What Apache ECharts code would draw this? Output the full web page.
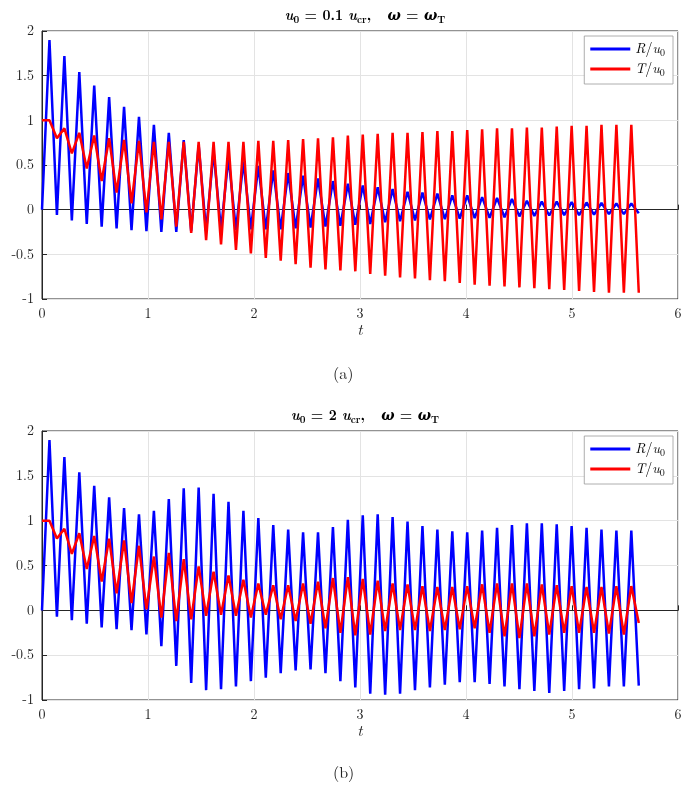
<!DOCTYPE html>
<html><head><meta charset="utf-8">
<script src="https://cdn.jsdelivr.net/npm/echarts@6/dist/echarts.min.js"></script>
<style>html,body{margin:0;padding:0;background:#fff}#c{width:689px;height:793px}</style>
</head><body><div id="c"></div>
<script>
// time step of samples (t end = 5.63, 80 steps)
const tEnd = 5.63, nSteps = 80;
// (a) u0 = 0.1 ucr : values at even samples (troughs) and odd samples (peaks)
const R_a_even = [0,-0.06,-0.12,-0.16,-0.19,-0.21,-0.23,-0.24,-0.25,-0.25,-0.24,-0.24,-0.23,-0.23,-0.22,-0.22,-0.22,-0.21,-0.2,-0.19,-0.18,
  -0.17,-0.16,-0.14,-0.13,-0.12,-0.11,-0.105,-0.1,-0.095,-0.09,-0.085,-0.075,-0.07,-0.065,-0.06,-0.06,-0.055,-0.05,-0.05,-0.04];
const R_a_odd = [1.9,1.72,1.54,1.39,1.26,1.15,1.04,0.95,0.86,0.78,0.72,0.65,0.59,0.54,0.49,0.44,0.41,0.38,0.35,0.32,
  0.29,0.27,0.25,0.23,0.2,0.19,0.18,0.16,0.16,0.14,0.13,0.12,0.1,0.09,0.09,0.085,0.08,0.075,0.07,0.07];
const T_a_even = [1,0.8,0.63,0.46,0.32,0.19,0.07,-0.03,-0.11,-0.19,-0.26,-0.34,-0.39,-0.45,-0.49,-0.54,-0.57,-0.61,-0.65,-0.67,-0.68,
  -0.69,-0.72,-0.74,-0.76,-0.77,-0.79,-0.8,-0.82,-0.84,-0.85,-0.86,-0.87,-0.88,-0.89,-0.9,-0.91,-0.92,-0.93,-0.93,-0.93];
const T_a_odd = [1.0,0.91,0.86,0.83,0.8,0.78,0.77,0.76,0.76,0.76,0.76,0.76,0.76,0.76,0.77,0.77,0.78,0.79,0.8,0.81,
  0.83,0.84,0.85,0.86,0.86,0.87,0.88,0.88,0.89,0.9,0.91,0.91,0.92,0.92,0.93,0.94,0.94,0.95,0.95,0.95];
// (b) u0 = 2 ucr
const R_b_even = [0,-0.07,-0.11,-0.15,-0.19,-0.21,-0.22,-0.27,-0.4,-0.62,-0.81,-0.89,-0.88,-0.85,-0.79,-0.75,-0.7,-0.67,-0.66,-0.7,-0.79,
  -0.86,-0.93,-0.94,-0.93,-0.89,-0.86,-0.83,-0.8,-0.8,-0.82,-0.85,-0.88,-0.9,-0.92,-0.9,-0.88,-0.87,-0.85,-0.85,-0.84];
const R_b_odd = [1.9,1.71,1.54,1.39,1.26,1.14,1.07,1.11,1.24,1.36,1.37,1.3,1.21,1.11,1.03,0.95,0.9,0.87,0.87,0.93,
  1.01,1.06,1.07,1.04,0.99,0.94,0.9,0.88,0.87,0.89,0.92,0.95,0.97,0.97,0.96,0.94,0.92,0.9,0.89,0.89];
const T_b_even = [1,0.8,0.63,0.46,0.32,0.19,0.08,0.01,-0.08,-0.12,-0.1,-0.06,-0.05,-0.06,-0.08,-0.05,-0.1,-0.12,-0.15,-0.2,-0.25,
  -0.28,-0.27,-0.23,-0.22,-0.22,-0.23,-0.22,-0.21,-0.2,-0.25,-0.29,-0.31,-0.29,-0.27,-0.25,-0.25,-0.25,-0.26,-0.27,-0.14];
const T_b_odd = [1.0,0.91,0.86,0.83,0.8,0.78,0.72,0.6,0.64,0.57,0.49,0.43,0.39,0.34,0.3,0.28,0.28,0.3,0.32,0.36,
  0.37,0.35,0.33,0.3,0.29,0.27,0.26,0.26,0.27,0.29,0.3,0.3,0.3,0.29,0.28,0.27,0.26,0.26,0.27,0.27];

function build(even, odd){
  const out=[];
  for(let k=0;k<=nSteps;k++){
    const v = (k%2===0)? even[k/2] : odd[(k-1)/2];
    out.push([k*tEnd/nSteps, v]);
  }
  return out;
}
const F = 'Latin Modern Roman, DejaVu Serif, serif';
const rich = {
  i:{fontFamily:F,fontStyle:'italic',fontSize:14,color:'#000'},
  n:{fontFamily:F,fontSize:14,color:'#000'},
  s:{fontFamily:F,fontSize:10,color:'#000',verticalAlign:'bottom',padding:[8,0,0,0]},
  si:{fontFamily:F,fontStyle:'italic',fontSize:10,color:'#000',padding:[8,0,0,0]}
};
const grids=[{left:42,right:11,top:31,height:268},{left:42,right:11,top:431,height:269}];
function xa(i){return {type:'value',gridIndex:i,min:0,max:6,interval:1,
  axisLine:{show:true,lineStyle:{color:'#262626'}},axisTick:{inside:true,length:5,lineStyle:{color:'#262626'}},
  axisLabel:{fontFamily:F,fontSize:14,color:'#222'},
  splitLine:{show:true,lineStyle:{color:'#e3e3e3'}},
  name:'t',nameLocation:'middle',nameGap:22,nameTextStyle:{fontFamily:F,fontStyle:'italic',fontSize:16,color:'#222'}};}
function ya(i){return {type:'value',gridIndex:i,min:-1,max:2,interval:0.5,
  axisLine:{show:true,lineStyle:{color:'#262626'}},axisTick:{inside:true,length:5,lineStyle:{color:'#262626'}},
  axisLabel:{fontFamily:F,fontSize:14,color:'#222',margin:8},
  splitLine:{show:true,lineStyle:{color:'#e3e3e3'}}};}
function ser(name,data,color,i){return {type:'line',name:name,xAxisIndex:i,yAxisIndex:i,data:data,showSymbol:false,
  lineStyle:{color:color,width:2.5},itemStyle:{color:color},animation:false};}
const legFmt = n => n==='R1'||n==='R2' ? '{i|R}{n|/}{i|u}{s|0}' : '{i|T}{n|/}{i|u}{s|0}';
function leg(i,top){return {show:true,data:i===0?['R1','T1']:['R2','T2'],orient:'vertical',right:16,top:top,
  itemWidth:40,itemHeight:3,itemGap:4,padding:[6,8,6,6],borderColor:'#999',borderWidth:0.8,backgroundColor:'#fff',
  icon:'rect',formatter:legFmt,textStyle:{rich:rich}};}
const chart = echarts.init(document.getElementById('c'),null,{renderer:'canvas'});
chart.setOption({
  animation:false,
  title:[
    {text:'{i|u}{s|0}{n| = 0.1 }{i|u}{s|cr}{n|,   }{i|ω}{n| = }{i|ω}{s|T}',left:360,top:2,textAlign:'center',textStyle:{rich:rich}},
    {text:'{i|u}{s|0}{n| = 2 }{i|u}{s|cr}{n|,   }{i|ω}{n| = }{i|ω}{s|T}',left:360,top:402,textAlign:'center',textStyle:{rich:rich}}
  ],
  grid:grids.map(g=>Object.assign({show:true,borderColor:'#262626',borderWidth:1,backgroundColor:'#fff'},g)),
  xAxis:[xa(0),xa(1)], yAxis:[ya(0),ya(1)],
  legend:[leg(0,36),leg(1,436)],
  series:[
    ser('R1',build(R_a_even,R_a_odd),'#0000ff',0),
    ser('T1',build(T_a_even,T_a_odd),'#ff0000',0),
    ser('R2',build(R_b_even,R_b_odd),'#0000ff',1),
    ser('T2',build(T_b_even,T_b_odd),'#ff0000',1)
  ],
  graphic:[
    {type:'text',left:333,top:366,style:{text:'(a)',font:'16px '+F,fill:'#222'}},
    {type:'text',left:333,top:765,style:{text:'(b)',font:'16px '+F,fill:'#222'}}
  ]
});
</script></body></html>
